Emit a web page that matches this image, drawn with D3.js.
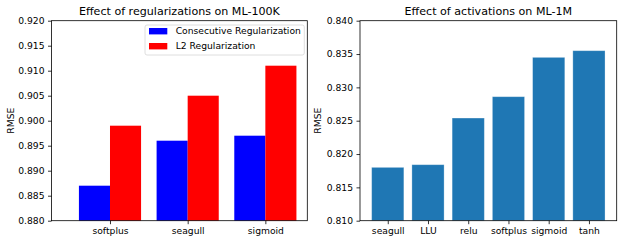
<!DOCTYPE html>
<html>
<head>
<meta charset="utf-8">
<script src="https://cdn.jsdelivr.net/npm/d3@7/dist/d3.min.js"></script>
<style>
  html, body { margin: 0; padding: 0; background: #fff; }
  svg { display: block; font-family: "DejaVu Sans", sans-serif; }
</style>
</head>
<body>
<svg id="chart" width="623" height="243"></svg>
<script>
// ---- data ----
const regCategories = ["softplus", "seagull", "sigmoid"];
const consecutiveValues = [0.887, 0.896, 0.897];
const l2Values = [0.899, 0.905, 0.911];
const regTicks = [0.880, 0.885, 0.890, 0.895, 0.900, 0.905, 0.910, 0.915, 0.920];
const regSeries = ["Consecutive Regularization", "L2 Regularization"];

const actCategories = ["seagull", "LLU", "relu", "softplus", "sigmoid", "tanh"];
const actValues = [0.8180, 0.8184, 0.8254, 0.8286, 0.8345, 0.8355];
const actTicks = [0.810, 0.815, 0.820, 0.825, 0.830, 0.835, 0.840];

// ---- layout ----
const svg = d3.select("#chart");
const FS = 9.2, TFS = 11.1;
const plotTop = 20.7, plotBottom = 220.7;

function drawAxes(g, x, y, ticks, cats, title) {
  const [x0, x1] = x.range();
  const ya = g.append("g").attr("transform", `translate(${x0},0)`)
    .call(d3.axisLeft(y).tickValues(ticks).tickFormat(d3.format(".3f")).tickSize(3.5).tickPadding(3.5));
  ya.select(".domain").remove();
  const xa = g.append("g").attr("transform", `translate(0,${plotBottom})`)
    .call(d3.axisBottom(x).tickValues(d3.range(cats.length)).tickFormat(i => cats[i]).tickSize(3.5).tickPadding(3.5));
  xa.select(".domain").remove();
  [ya, xa].forEach(a => {
    a.selectAll("text").attr("font-size", FS).attr("font-family", "DejaVu Sans").attr("fill", "#000");
    a.selectAll("line").attr("stroke", "#000").attr("stroke-width", 0.8);
  });
  g.append("rect").attr("x", x0).attr("y", plotTop).attr("width", x1 - x0).attr("height", plotBottom - plotTop)
    .attr("fill", "none").attr("stroke", "#000").attr("stroke-width", 0.8);
  g.append("text").attr("x", (x0 + x1) / 2).attr("y", 15).attr("text-anchor", "middle")
    .attr("font-size", TFS).text(title);
}

// ---- left chart ----
const gl = svg.append("g");
const xl = d3.scaleLinear().domain([-0.753, 2.54]).range([51.5, 307.3]);
const yl = d3.scaleLinear().domain([0.880, 0.920]).range([plotBottom, plotTop]);
gl.selectAll("rect.c").data(consecutiveValues).join("rect").attr("class", "c")
  .attr("x", (d, i) => xl(i - 0.4)).attr("width", (d, i) => xl(i) - xl(i - 0.4))
  .attr("y", d => yl(d)).attr("height", d => yl(0.880) - yl(d))
  .attr("fill", "#0000ff");
gl.selectAll("rect.l").data(l2Values).join("rect").attr("class", "l")
  .attr("x", (d, i) => xl(i)).attr("width", (d, i) => xl(i + 0.4) - xl(i))
  .attr("y", d => yl(d)).attr("height", d => yl(0.880) - yl(d))
  .attr("fill", "#ff0000");
drawAxes(gl, xl, yl, regTicks, regCategories, "Effect of regularizations on ML-100K");
gl.append("text").attr("transform", `translate(13.5,${(plotTop + plotBottom) / 2}) rotate(-90)`)
  .attr("text-anchor", "middle").attr("font-size", FS).text("RMSE");

// legend
const lg = gl.append("g");
lg.append("rect").attr("x", 145).attr("y", 25).attr("width", 159.3).attr("height", 30).attr("rx", 2)
  .attr("fill", "rgba(255,255,255,0.8)").attr("stroke", "#d5d5d5").attr("stroke-width", 0.8);
const legColors = ["#0000ff", "#ff0000"];
regSeries.forEach((s, i) => {
  const cy = 31.2 + i * 15;
  lg.append("rect").attr("x", 149).attr("y", cy - 3.2).attr("width", 18.3).attr("height", 6.4).attr("fill", legColors[i]);
  lg.append("text").attr("x", 175.7).attr("y", cy).attr("dy", "0.35em").attr("font-size", FS).text(s);
});

// ---- right chart ----
const gr = svg.append("g");
const xr = d3.scaleLinear().domain([-0.69, 5.69]).range([360, 616.7]);
const yr = d3.scaleLinear().domain([0.810, 0.840]).range([plotBottom, plotTop]);
gr.selectAll("rect.b").data(actValues).join("rect").attr("class", "b")
  .attr("x", (d, i) => xr(i - 0.4)).attr("width", (d, i) => xr(i + 0.4) - xr(i - 0.4))
  .attr("y", d => yr(d)).attr("height", d => yr(0.810) - yr(d))
  .attr("fill", "#1f77b4").attr("stroke", "rgba(255,255,255,0.35)").attr("stroke-width", 0.8);
drawAxes(gr, xr, yr, actTicks, actCategories, "Effect of activations on ML-1M");
gr.append("text").attr("transform", `translate(321,${(plotTop + plotBottom) / 2}) rotate(-90)`)
  .attr("text-anchor", "middle").attr("font-size", FS).text("RMSE");
</script>
</body>
</html>
